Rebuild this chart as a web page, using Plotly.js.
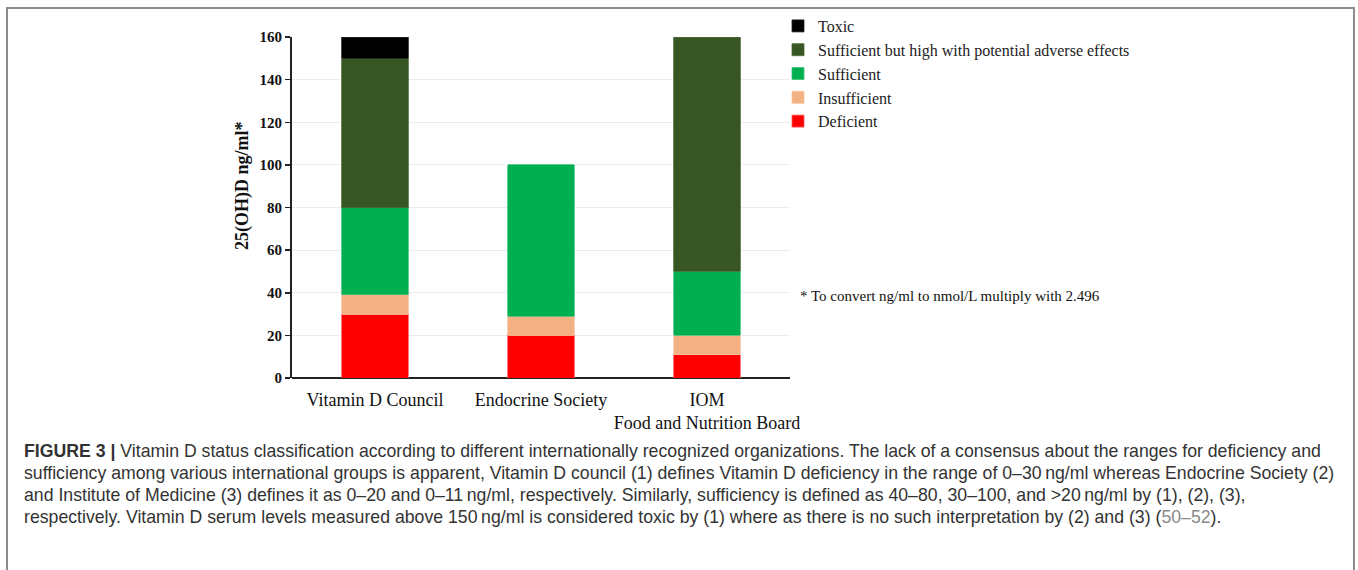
<!DOCTYPE html>
<html>
<head>
<meta charset="utf-8">
<script src="https://cdn.plot.ly/plotly-3.0.1.min.js"></script>
<style>
  html, body { margin: 0; padding: 0; background: #ffffff; }
  #chart { width: 1358px; height: 570px; }
</style>
</head>
<body>
<div id="chart"></div>
<script>
// ---- data ----
var categories = ["Vitamin D Council", "Endocrine Society", "IOM<br>Food and Nutrition Board"];
var deficient    = [30, 20, 11];
var insufficient = [9, 9, 9];
var sufficient   = [41, 71, 30];
var highAdverse  = [70, null, 110];
var toxic        = [10, null, null];
var seriesNames  = ["Deficient", "Insufficient", "Sufficient", "Sufficient but high with potential adverse effects", "Toxic"];
var yTicks       = [0, 20, 40, 60, 80, 100, 120, 140, 160];
var yTitle       = "25(OH)D ng/ml*";
var captionLines = [
  "<b>FIGURE 3 |</b> Vitamin D status classification according to different internationally recognized organizations. The lack of a consensus about the ranges for deficiency and",
  "sufficiency among various international groups is apparent, Vitamin D council (1) defines Vitamin D deficiency in the range of 0–30\u2009ng/ml whereas Endocrine Society (2)",
  "and Institute of Medicine (3) defines it as 0–20 and 0–11\u2009ng/ml, respectively. Similarly, sufficiency is defined as 40–80, 30–100, and >20\u2009ng/ml by (1), (2), (3),",
  "respectively. Vitamin D serum levels measured above 150\u2009ng/ml is considered toxic by (1) where as there is no such interpretation by (2) and (3) (<span style=\"fill:#8a8a8a\">50–52</span>)."
];
var footnote = "* To convert ng/ml to nmol/L multiply with 2.496";

// ---- layout geometry (pixels) ----
var W = 1358, H = 570;
var L = 292, R = 790, T = 37, B = 378;
function px(x) { return (x - L) / (R - L); }
function py(y) { return (B - y) / (B - T); }

var colors = ["#ff0000", "#f4b183", "#00b050", "#375623", "#000000"];
var lineColors = ["#ff5a5a", "#f7c4a0", "#3cc07a", "#4a6b33", "#222222"];
var values = [deficient, insufficient, sufficient, highAdverse, toxic];

var traces = values.map(function (v, i) {
  return {
    type: "bar",
    name: seriesNames[i],
    x: categories,
    y: v,
    width: 0.4,
    marker: { color: colors[i], line: { color: lineColors[i], width: 0.8 } },
    hoverinfo: "name+y"
  };
});

var serif = "Liberation Serif, Times New Roman, serif";
var sans = "Liberation Sans, Arial, Helvetica, sans-serif";

var annotations = captionLines.map(function (t, i) {
  return {
    xref: "paper", yref: "paper",
    x: px(22), y: py(451 + 22 * i),
    xanchor: "left", yanchor: "middle",
    text: t, showarrow: false,
    font: { family: sans, size: 17.7, color: "#333333" }
  };
});
annotations.push({
  xref: "paper", yref: "paper",
  x: px(798), y: py(296),
  xanchor: "left", yanchor: "middle",
  text: footnote, showarrow: false,
  font: { family: serif, size: 15, color: "#111111" }
});
annotations.push({
  xref: "paper", yref: "paper",
  x: px(243), y: py(186),
  xanchor: "center", yanchor: "middle",
  textangle: -90,
  text: "<b>" + yTitle + "</b>", showarrow: false,
  font: { family: serif, size: 18, color: "#111111" }
});

var layout = {
  width: W, height: H,
  margin: { l: L, r: W - R, t: T, b: H - B, pad: 0, autoexpand: false },
  paper_bgcolor: "#ffffff",
  plot_bgcolor: "#ffffff",
  barmode: "stack",
  showlegend: true,
  legend: {
    x: px(778), y: py(9), xanchor: "left", yanchor: "top",
    traceorder: "reversed",
    font: { family: serif, size: 16, color: "#222222" },
    bgcolor: "rgba(0,0,0,0)",
    itemwidth: 30,
    tracegroupgap: 0
  },
  xaxis: {
    type: "category",
    range: [-0.5, 2.5],
    showgrid: false,
    showline: false,
    zeroline: false,
    ticks: "",
    ticklabelstandoff: 9,
    tickfont: { family: serif, size: 18, color: "#111111" },
    fixedrange: true
  },
  yaxis: {
    range: [0, 160],
    tickvals: yTicks,
    ticktext: yTicks.map(String),
    showgrid: true,
    gridcolor: "#ececec",
    gridwidth: 1,
    showline: true,
    linecolor: "#222222",
    linewidth: 2,
    zeroline: true,
    zerolinecolor: "#222222",
    zerolinewidth: 2,
    ticks: "outside",
    ticklen: 5,
    tickwidth: 1.5,
    tickcolor: "#222222",
    tickfont: { family: serif, size: 15, color: "#111111", weight: "bold" },
    fixedrange: true
  },
  annotations: annotations,
  shapes: [
    {
      type: "path", xref: "paper", yref: "paper",
      path: "M " + px(7) + "," + py(620) + " L " + px(7) + "," + py(8) +
            " L " + px(1354) + "," + py(8) + " L " + px(1354) + "," + py(620),
      line: { color: "#8c8c8c", width: 2 },
      layer: "above"
    }
  ]
};

Plotly.newPlot("chart", traces, layout, { displayModeBar: false, staticPlot: true });
</script>
</body>
</html>
